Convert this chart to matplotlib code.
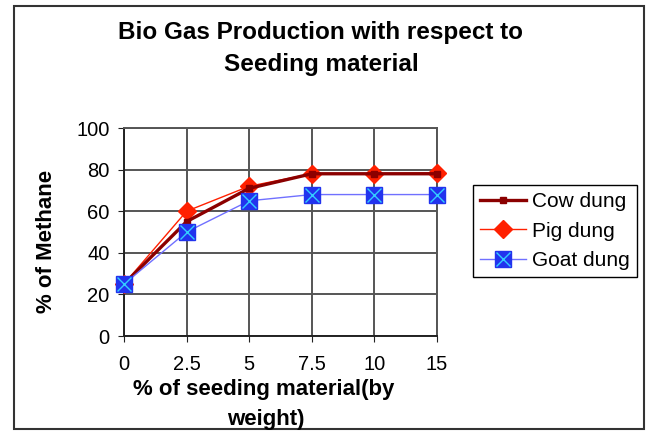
import matplotlib
matplotlib.use("Agg")
import matplotlib.pyplot as plt
from matplotlib.patches import Rectangle

categories = ["0", "2.5", "5", "7.5", "10", "15"]
cow = [25, 55, 71, 78, 78, 78]
pig = [25, 60, 72, 78, 78, 78.5]
goat = [25, 50, 65, 68, 68, 68]
yticks = [0, 20, 40, 60, 80, 100]

plt.rcParams['font.family'] = ['Liberation Sans', 'DejaVu Sans']

W, H = 652, 432
fig = plt.figure(figsize=(W / 100, H / 100), dpi=100)
ax = fig.add_axes([124 / W, 1 - 336 / H, (437 - 124) / W, (336 - 128) / H])
x = list(range(len(categories)))

lp, = ax.plot(x, pig, color='#FF2000', lw=1.0, marker='D', ms=9.5, mec='#FF2000', mfc='#FF2000', zorder=3)
lc, = ax.plot(x, cow, color='#8B0000', lw=2.4, marker='s', ms=5, mec='#8B0000', mfc='#8B0000', zorder=4)
lg, = ax.plot(x, goat, color='#7070FF', lw=1.0, marker='s', ms=11.5, mec='#2233EE', mfc='#2233EE', zorder=5)
lgx, = ax.plot(x, goat, ls='none', marker='x', ms=9.5, mew=1.0, color='#33CCFF', zorder=6)

ax.set_xlim(0, len(categories) - 1)
ax.set_ylim(0, 100)
ax.set_xticks(x)
ax.set_xticklabels(categories, fontsize=14.5)
ax.set_yticks(yticks)
ax.set_yticklabels([str(v) for v in yticks], fontsize=14.5)
ax.grid(True, color='#555555', lw=1.4)
ax.set_axisbelow(True)
for s in ax.spines.values():
    s.set_color('#555555')
    s.set_linewidth(1.4)
ax.spines['left'].set_color('#222222')
ax.spines['bottom'].set_color('#222222')
ax.tick_params(axis='y', direction='out', length=4.5, color='#222222', pad=6)
ax.tick_params(axis='x', direction='out', length=4.5, color='#222222', pad=9)
for m in (lc, lp, lg, lgx):
    m.set_clip_on(False)

leg = fig.legend([lc, lp, (lg, lgx)], ['Cow dung', 'Pig dung', 'Goat dung'],
                 loc='upper left', bbox_to_anchor=(473 / W, 1 - 185 / H), fontsize=15,
                 frameon=True, fancybox=False, edgecolor='black', framealpha=1,
                 handlelength=2.2, borderpad=0.35, labelspacing=0.5, handletextpad=0.3,
                 borderaxespad=0)
leg.get_frame().set_linewidth(1.0)

fig.text(321 / W, 1 - 33 / H, 'Bio Gas Production with respect to',
         ha='center', va='center', fontsize=17.5, fontweight='bold')
fig.text(321 / W, 1 - 64 / H, 'Seeding material',
         ha='center', va='center', fontsize=17.5, fontweight='bold')
fig.text(264 / W, 1 - 390 / H, '% of seeding material(by', ha='center', va='center',
         fontsize=16, fontweight='bold')
fig.text(266 / W, 1 - 419 / H, 'weight)', ha='center', va='center',
         fontsize=16, fontweight='bold')
fig.text(47 / W, 1 - 241 / H, '% of Methane', ha='center', va='center', rotation=90,
         fontsize=16, fontweight='bold')

fig.patches.append(Rectangle((14 / W, 1 - 429 / H), (644 - 14) / W, (429 - 6) / H,
                             transform=fig.transFigure, fill=False,
                             edgecolor='#333333', lw=1.5))

fig.savefig('out.png', dpi=100)
